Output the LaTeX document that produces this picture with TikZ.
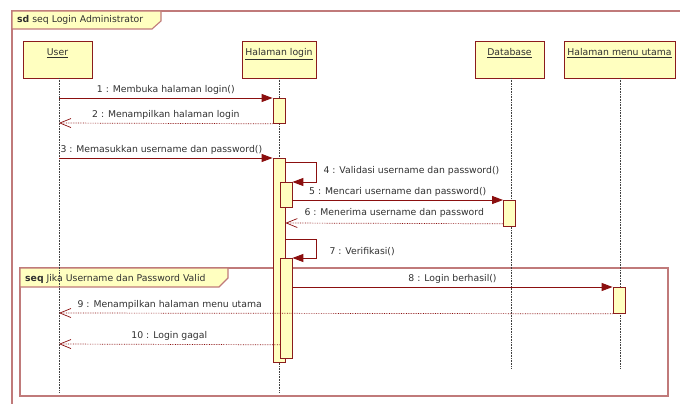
\documentclass[tikz,border=0pt]{standalone}
\usepackage{fontspec}
\setmainfont{DejaVu Sans}
\usetikzlibrary{arrows.meta}

\definecolor{framerose}{HTML}{C07A7A}
\definecolor{boxred}{HTML}{8B1C1C}
\definecolor{msgred}{HTML}{8B0F0F}
\definecolor{boxfill}{HTML}{FFFFC0}
\definecolor{txtgray}{HTML}{303030}

\newcommand{\diasize}{\fontsize{9.3}{11}\selectfont}

\begin{document}
\begin{tikzpicture}[x=1pt,y=-1pt,
    every node/.style={font=\diasize, text=txtgray},
    head/.style={draw=boxred, fill=boxfill, line width=0.8pt, inner xsep=2pt, inner ysep=2pt,
                 minimum height=37pt, text height=13pt, text depth=20pt},
    act/.style={draw=boxred, fill=boxfill, line width=0.8pt, minimum width=12pt, inner sep=0pt, anchor=north},
    lifeline/.style={draw=black!75, densely dotted, line width=0.6pt},
    call/.style={draw=msgred, line width=1pt, -{Triangle[length=11pt,width=8pt]}},
    reply/.style={draw=msgred, line width=0.7pt, densely dotted, -{Straight Barb[length=11pt,width=9pt,line width=0.7pt]}},
    frameline/.style={draw=framerose, line width=1.1pt}]

  \useasboundingbox (0,0) rectangle (680,404);

  % outer frame
  \draw[frameline] (12,404) -- (12,11) -- (680,11);
  \draw[frameline, fill=boxfill] (12,11) -- (161,11) -- (161,21) -- (152,29) -- (12,29) -- cycle;
  \node[anchor=west, inner sep=0pt] (sdlabel) at (17,20) {\textbf{sd} seq Login Administrator};

  % lifeline heads
  \begin{scope}[every node/.style={head, font=\diasize, text=txtgray}]
    \node[minimum width=69pt]  (user) at (57.5,59.5)  {\underline{User}};
    \node[minimum width=74pt]  (login) at (279,59.5)  {\underline{Halaman login}};
    \node[minimum width=69pt]  (db) at (509.5,59.5)   {\underline{Database}};
    \node[minimum width=111pt] (menu) at (619.5,59.5) {\underline{Halaman menu utama}};
  \end{scope}

  % combined fragment
  \draw[frameline] (20,268) rectangle (668,396);
  \draw[frameline, fill=boxfill] (20,268) -- (228,268) -- (228,278) -- (219,287) -- (20,287) -- cycle;
  \node[anchor=west, inner sep=0pt] (seqlabel) at (25,278.5) {\textbf{seq} Jika Username dan Password Valid};

  % lifelines
  \coordinate (userEnd)  at (59,392);
  \coordinate (loginEnd) at (279,392);
  \coordinate (dbEnd)    at (511,369);
  \coordinate (menuEnd)  at (620,369);
  \draw[lifeline] (59,78) -- (userEnd);
  \draw[lifeline] (279,78) -- (loginEnd);
  \draw[lifeline] (511,78) -- (dbEnd);
  \draw[lifeline] (620,78) -- (menuEnd);

  % activations
  \node[act, minimum height=25pt]  (a1) at (279,98)  {};
  \node[act, minimum height=204pt] (a3) at (279,158) {};
  \node[act, minimum height=25pt]  (a4) at (286,182) {};
  \node[act, minimum height=26pt]  (adb) at (509.5,200) {};
  \node[act, minimum height=100pt] (a7) at (286,258) {};
  \node[act, minimum height=26pt]  (am) at (619,287) {};

  % points on the user lifeline
  \coordinate (u1) at (59,98);
  \coordinate (u2) at (59,123);
  \coordinate (u3) at (59,158);
  \coordinate (u9) at (59,313);
  \coordinate (u10) at (59,344);

  % messages
  \path (u1) edge[call] node[midway, above] {1 : Membuka halaman login()} (a1.north west);
  \path (a1.south west) edge[reply] node[midway, above] {2 : Menampilkan halaman login} (u2);
  \path (u3) edge[call] node[pos=0, anchor=south west, inner xsep=1pt] {3 : Memasukkan username dan password()} (a3.north west);

  \draw[call] ([yshift=-4pt]a3.north east) -- ++(31,0) |- (a4.north east);
  \node[anchor=west] (m4) at (320,170.5) {4 : Validasi username dan password()};

  \path (a4.east |- adb.north west) edge[call] node[midway, above] {5 : Mencari username dan password()} (adb.north west);
  \path ([yshift=3pt]adb.south west) edge[reply] node[midway, above, yshift=2pt] {6 : Menerima username dan password} (a3.east |- 0,223);

  \draw[call] ([yshift=-81pt]a3.north east) -- ++(31,0) |- (a7.north east);
  \node[anchor=west] (m7) at (326,251.5) {7 : Verifikasi()};

  \path (a7.east |- am.north west) edge[call] node[midway, above] {8 : Login berhasil()} (am.north west);
  \path (am.south west) edge[reply] node[pos=0.8, above] {9 : Menampilkan halaman menu utama} (u9);
  \path ([yshift=14pt]a7.south west) edge[reply] node[midway, above] {10 : Login gagal} (u10);

\end{tikzpicture}
\end{document}
